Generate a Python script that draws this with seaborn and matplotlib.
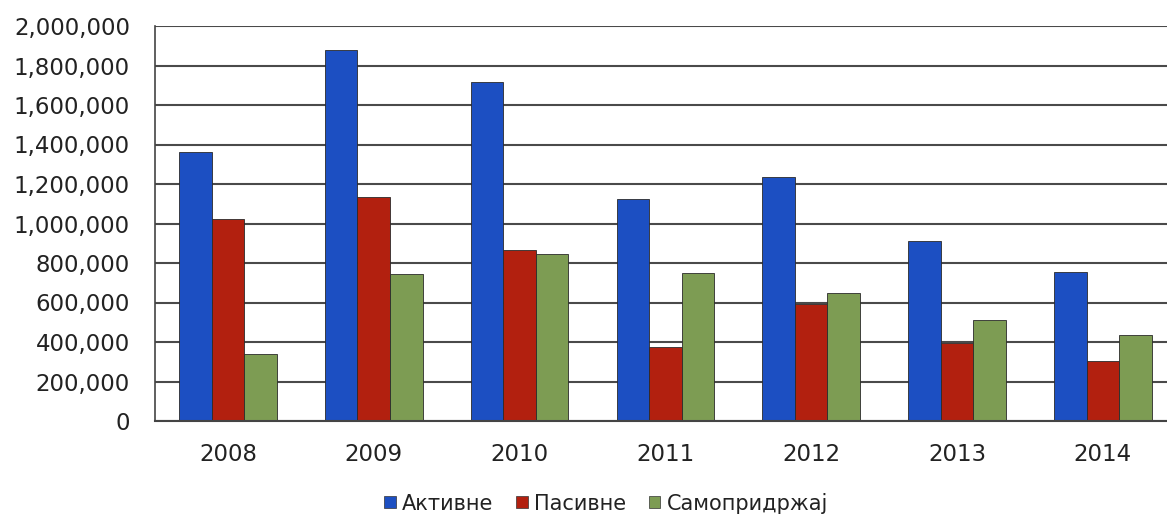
import matplotlib
matplotlib.use("Agg")
import matplotlib.pyplot as plt
import matplotlib.ticker as mticker
from matplotlib.patches import Patch
import pandas as pd
import seaborn as sns

# ---- Data ----
years = ["2008", "2009", "2010", "2011", "2012", "2013", "2014"]
series = ["Активне", "Пасивне", "Самопридржај"]
aktivne = [1362000, 1878000, 1716000, 1124000, 1235000, 911000, 754000]
pasivne = [1023000, 1134000, 866000, 375000, 592000, 395000, 304000]
samopridrzaj = [339000, 744000, 846000, 748000, 648000, 511000, 435000]
colors = ["#1c4fc2", "#b2200f", "#7d9c53"]

df = pd.DataFrame({
    "year": years * 3,
    "series": [series[0]] * 7 + [series[1]] * 7 + [series[2]] * 7,
    "value": aktivne + pasivne + samopridrzaj,
})

sns.set_style("white")
plt.rcParams["font.family"] = ["DejaVu Sans"]

W, H = 1167, 516
fig = plt.figure(figsize=(W / 100, H / 100), dpi=100)
ax = fig.add_axes([155 / W, (H - 421) / H, (W - 155) / W, (421 - 26) / H])

sns.barplot(data=df, x="year", y="value", hue="series", palette=colors,
            saturation=1, width=0.67, order=years, hue_order=series, ax=ax,
            edgecolor="#2a2a2a", linewidth=0.6, legend=False)

ax.set_xlim(-0.5, 6.44)
ax.set_ylim(0, 2000000)
ax.yaxis.set_major_locator(mticker.MultipleLocator(200000))
ax.yaxis.set_major_formatter(mticker.FuncFormatter(lambda v, p: f"{int(v):,}"))
ax.grid(axis="y", color="#4a4a4a", linewidth=1.5)
ax.set_axisbelow(True)
for s in ["top", "right"]:
    ax.spines[s].set_visible(False)
ax.spines["left"].set_color("#444444")
ax.spines["bottom"].set_color("#444444")
ax.spines["left"].set_linewidth(1.2)
ax.spines["bottom"].set_linewidth(1.5)
ax.tick_params(axis="y", labelsize=16.5, length=4, color="#444444", pad=14, labelcolor="#222222")
ax.tick_params(axis="x", labelsize=16.5, length=0, pad=16, labelcolor="#222222")
ax.set_xlabel("")
ax.set_ylabel("")

handles = [Patch(facecolor=c, edgecolor="#333333", linewidth=0.5) for c in colors]
fig.legend(handles, series, loc="center", bbox_to_anchor=(606 / W, 1 - 503 / H),
           ncol=3, frameon=False, fontsize=15, handlelength=0.55, handleheight=0.55,
           handletextpad=0.3, columnspacing=1.1, labelcolor="#222222")

fig.savefig("out.png", dpi=100)
